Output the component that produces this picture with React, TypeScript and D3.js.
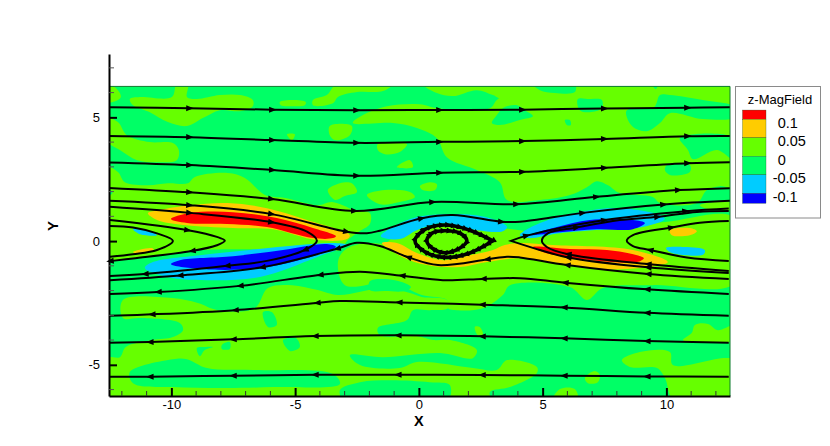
import { useEffect, useRef } from "react";
import * as d3 from "d3";

type Pt = [number, number];

const xMajor = [-10, -5, 0, 5, 10];
const yMajor = [-5, 0, 5];
const xMinor = d3.range(-12, 13);
const yMinor = d3.range(-6, 8);

const levelColors = ["#ff0000", "#ffcc00", "#66ff00", "#00ff66", "#00ccff", "#0000ff"];
const legendLabels = ["0.1", "0.05", "0", "-0.05", "-0.1"];
const legendValues = [0.1, 0.05, 0, -0.05, -0.1];
const legendEnds = [0.125, -0.127];

// contour regions of z-MagField, in X/Y units
const limePatches: Pt[][] = [
  [[-12.6, 6.35], [-12.16, 6.1], [-12.04, 5.82], [-12.24, 5.66], [-12.65, 5.62]],
  [[-11.68, 5.74], [-11.27, 5.82], [-9.98, 5.82], [-9.78, 6.35], [-9.33, 6.35], [-9.37, 5.82], [-8.97, 5.74], [-8.04, 5.9], [-7.23, 5.9], [-6.71, 5.7], [-6.71, 5.45], [-7.23, 5.25], [-8.04, 5.29], [-8.73, 4.97], [-9.37, 4.65], [-10.14, 4.81], [-10.87, 5.21], [-11.55, 5.49]],
  [[-12.65, 4.97], [-12.16, 4.81], [-11.8, 4.28], [-10.87, 4.0], [-9.94, 3.96], [-9.7, 3.68], [-9.78, 3.27], [-10.58, 3.19], [-11.39, 3.27], [-12.08, 3.68], [-12.65, 4.08]],
  [[-4.28, 5.49], [-4.28, 5.7], [-3.72, 5.9], [-3.31, 6.35], [-1.05, 6.35], [-1.45, 6.06], [-2.5, 6.02], [-3.27, 5.82], [-3.47, 5.57]],
  [[-5.62, 5.62], [-5.09, 5.7], [-4.57, 5.62], [-4.61, 5.49], [-5.09, 5.45], [-5.58, 5.49]],
  [[-3.6, 4.65], [-2.71, 4.65], [-2.79, 4.28], [-3.39, 4.08], [-3.6, 4.28]],
  [[-5.33, 4.32], [-5.01, 4.32], [-5.13, 4.08]],
  [[-1.66, 3.92], [-0.48, 3.92], [-0.77, 3.6], [-1.37, 3.51], [-1.66, 3.68]],
  [[-0.89, 2.99], [-0.36, 3.27], [-0.24, 2.99], [-0.77, 2.95]],
  [[-3.68, 2.06], [-3.19, 2.34], [-2.71, 2.34], [-2.5, 1.98], [-2.99, 1.82], [-3.39, 1.66]],
  [[-2.1, 1.86], [-1.37, 2.06], [-0.36, 1.98], [-0.16, 1.78], [-0.77, 1.58], [-1.58, 1.49]],
  [[0.04, 2.22], [0.44, 2.38], [0.73, 2.3], [0.65, 2.06], [0.16, 2.06]],
  [[11.35, 1.45], [12.56, 1.58], [12.77, 1.29], [11.55, 1.33]],
  // upper right
  [[3.15, 5.7], [3.68, 6.02], [4.48, 6.35], [12.77, 6.35], [12.77, 2.18], [12.16, 2.22], [11.64, 2.06], [11.23, 1.54], [9.74, 1.54], [9.45, 1.78], [8.12, 1.94], [7.64, 2.26], [7.19, 2.42], [6.79, 2.18], [6.1, 1.86], [4.89, 1.66], [3.56, 1.66], [3.27, 2.38], [2.34, 2.87], [1.13, 3.39], [0.73, 4.16], [-0.08, 4.57], [-1.05, 4.77], [-2.67, 4.77], [-2.26, 5.09], [-1.29, 5.45], [0.04, 5.53], [0.73, 5.37], [2.87, 5.37]],
  [[0.16, 6.35], [0.73, 5.98], [1.37, 5.86], [2.34, 6.1], [2.99, 5.9], [3.47, 5.7], [4.08, 6.35]],
  // band around the left lobes
  [[-12.65, 2.99], [-12.16, 2.79], [-11.88, 2.38], [-10.95, 2.26], [-10.14, 2.34], [-9.33, 2.34], [-9.05, 2.59], [-7.72, 2.75], [-7.03, 2.55], [-6.22, 1.86], [-5.41, 1.74], [-4.08, 1.45], [-3.51, 1.58], [-2.59, 1.25], [-1.98, 1.13], [-1.98, 0.69], [-2.46, 0.36], [-2.87, 0.04], [-3.19, -0.36], [-4.0, -0.36], [-8.85, -0.36], [-10.87, -0.61], [-12.65, -0.61]],
  // central band
  [[-3.27, -0.85], [-2.99, -0.36], [-2.18, -0.08], [-1.37, -0.08], [-0.77, 0.36], [1.05, 0.61], [3.27, 0.53], [4.89, 0.36], [7.31, 0.53], [9.94, 0.77], [12.77, 0.93], [12.77, -1.7], [9.45, -1.78], [7.43, -1.9], [6.79, -2.38], [6.1, -1.86], [3.68, -1.78], [3.39, -2.18], [2.59, -2.71], [1.54, -2.79], [1.17, -2.71], [1.13, -2.38], [0.12, -2.18], [-0.77, -1.78], [-1.37, -1.66], [-2.99, -1.78]],
  // lower left
  [[-11.96, -2.38], [-9.98, -2.3], [-8.93, -2.5], [-8.12, -2.79], [-6.63, -2.71], [-6.1, -1.9], [-5.13, -1.78], [-4.08, -1.98], [-3.27, -2.18], [-1.37, -1.9], [-0.36, -2.1], [0.12, -2.26], [1.13, -2.38], [1.17, -2.71], [0.44, -2.79], [-0.24, -2.79], [-0.48, -3.19], [-1.66, -3.51], [-1.58, -3.8], [-0.08, -3.84], [0.57, -4.0], [1.25, -4.0], [2.34, -4.4], [2.18, -4.73], [0.85, -4.52], [-1.45, -4.69], [-2.79, -4.61], [-2.38, -5.01], [-0.77, -5.13], [-0.08, -4.89], [2.18, -5.13], [3.15, -5.21], [3.56, -4.81], [4.77, -5.09], [4.77, -5.33], [3.68, -5.9], [2.87, -6.1], [2.87, -6.5], [-12.69, -6.5], [-12.69, -4.73], [-12.08, -4.69], [-11.84, -4.28], [-10.75, -4.0], [-9.94, -3.88], [-9.53, -3.6], [-9.66, -3.31], [-11.27, -3.11], [-11.96, -3.11]],
  // lower right
  [[11.15, -3.39], [11.68, -3.35], [12.08, -3.6], [12.77, -3.39], [12.77, -4.0], [11.35, -4.08], [10.67, -4.0], [11.03, -3.7]],
  [[8.2, -4.81], [8.93, -4.48], [10.14, -4.48], [10.26, -5.01], [12.77, -4.81], [12.77, -6.5], [10.34, -6.5], [9.94, -5.53], [9.62, -5.13], [8.52, -5.09]],
  [[6.71, -5.53], [7.11, -5.25], [7.31, -5.41], [7.23, -5.7], [6.83, -5.74]],
  [[5.41, -6.42], [5.7, -5.98], [6.3, -5.98], [6.42, -6.42]],
  [[2.26, -3.47], [2.46, -3.47], [2.59, -3.8], [2.38, -3.8]],
];

const greenPatches: Pt[][] = [
  [[4.61, 6.35], [6.3, 6.35], [6.3, 6.02], [5.49, 5.98], [4.89, 6.1]],
  [[9.41, 6.35], [9.66, 6.35], [9.57, 6.14]],
  [[3.39, 5.37], [3.96, 5.49], [4.28, 5.29], [4.61, 5.05], [4.08, 4.89], [3.27, 4.69], [2.95, 4.77], [3.15, 5.09]],
  [[6.42, 5.74], [6.91, 5.74], [7.39, 5.7], [7.39, 5.37], [6.91, 5.21], [6.5, 5.29]],
  [[5.9, 4.89], [6.1, 4.89], [6.14, 4.69], [5.98, 4.69]],
  [[9.74, 5.9], [10.14, 5.9], [11.47, 5.7], [12.77, 5.41], [12.77, 5.01], [11.47, 4.93], [10.14, 5.17], [9.74, 4.77], [9.21, 4.44], [8.65, 4.61], [8.4, 5.01], [8.4, 5.29], [9.5, 5.41]],
  [[10.02, 3.07], [10.95, 3.07], [10.95, 2.79], [10.14, 2.67], [9.94, 2.87]],
  [[10.54, 4.16], [12.77, 4.16], [12.77, 3.27], [12.04, 3.68], [11.07, 3.31], [10.87, 3.68]],
  [[-12.65, 2.06], [-12.4, 2.02], [-12.4, 1.9], [-12.65, 1.86]],
  [[-11.68, -5.29], [-9.94, -4.77], [-9.37, -4.77], [-8.56, -5.13], [-6.71, -5.21], [-3.47, -5.37], [-3.19, -5.78], [-5.9, -5.9], [-7.76, -5.94], [-9.94, -5.9], [-11.55, -5.74]],
  [[-3.19, -6.02], [-2.38, -5.7], [-1.17, -5.62], [0.44, -5.7], [1.25, -5.82], [1.13, -6.5], [-2.99, -6.5]],
  [[-8.97, -4.32], [-8.65, -4.28], [-8.32, -4.28], [-8.65, -4.4], [-8.85, -4.65]],
  [[-7.96, -4.2], [-7.64, -4.08], [-7.64, -4.36], [-7.96, -4.36]],
  [[-5.49, -4.0], [-4.97, -3.92], [-4.81, -4.28], [-5.21, -4.44]],
  [[-6.3, -2.87], [-5.94, -2.87], [-5.74, -3.39], [-6.1, -3.47]],
  [[-1.98, -1.62], [-0.97, -1.58], [-0.32, -1.86], [-0.57, -2.02], [-1.37, -2.02], [-1.98, -1.98]],
];

const orangePatches: Pt[][] = [
  [[-10.95, 1.13], [-10.54, 1.25], [-9.25, 1.45], [-7.72, 1.54], [-6.14, 1.33], [-4.52, 0.85], [-2.79, 0.24], [-2.91, 0.08], [-4.12, 0.04], [-5.9, 0.48], [-7.51, 0.53], [-9.53, 0.65], [-10.58, 0.85]],
  [[-11.55, -0.44], [-10.79, -0.28], [-10.71, -0.36], [-11.27, -0.53]],
  [[-1.49, -0.08], [-0.89, -0.08], [-0.08, -0.48], [0.97, -0.77], [2.06, -0.57], [2.99, -0.36], [3.47, -0.16], [4.08, -0.08], [5.41, -0.16], [8.65, -0.36], [10.06, -0.85], [8.93, -1.09], [7.31, -1.13], [5.58, -0.89], [4.08, -0.69], [2.75, -0.85], [1.66, -1.05], [0.32, -0.97], [-0.65, -0.65]],
  [[10.14, 0.44], [10.95, 0.53], [11.23, 0.4], [10.95, 0.24], [10.22, 0.24]],
];

const redPatches: Pt[][] = [
  [[-10.02, 0.89], [-9.25, 1.13], [-7.51, 1.17], [-5.74, 0.93], [-4.28, 0.53], [-3.35, 0.2], [-3.47, 0.12], [-4.28, 0.12], [-6.14, 0.57], [-7.76, 0.69], [-9.37, 0.73]],
  [[4.61, -0.24], [6.1, -0.32], [7.6, -0.36], [8.81, -0.57], [9.09, -0.69], [8.81, -0.85], [7.43, -0.81], [5.98, -0.65], [5.01, -0.44]],
];

const cyanPatches: Pt[][] = [
  [[-11.07, -1.09], [-10.75, -0.85], [-8.85, -0.57], [-6.83, -0.36], [-4.81, -0.16], [-3.47, -0.08], [-2.91, -0.16], [-4.12, -0.65], [-6.42, -1.45], [-8.32, -1.58], [-10.18, -1.45]],
  [[-11.55, 0.48], [-10.87, 0.4], [-10.58, 0.24], [-11.27, 0.28]],
  [[-1.54, 0.2], [-1.05, 0.57], [-0.08, 0.97], [1.66, 1.09], [2.99, 0.89], [3.56, 0.57], [3.39, 0.4], [2.34, 0.44], [0.97, 0.73], [-0.08, 0.44], [-0.77, 0.08]],
  [[4.08, 0.24], [4.89, 0.73], [6.5, 1.17], [8.12, 1.33], [9.74, 1.05], [9.94, 0.89], [9.05, 0.57], [7.6, 0.48], [5.7, 0.32], [4.4, 0.12]],
  [[9.98, -0.28], [10.75, -0.24], [11.55, -0.36], [11.51, -0.53], [10.75, -0.57], [10.14, -0.44]],
];

const bluePatches: Pt[][] = [
  [[-10.02, -0.93], [-9.66, -0.77], [-7.51, -0.61], [-5.49, -0.36], [-3.72, -0.12], [-3.35, -0.24], [-4.28, -0.61], [-6.42, -1.09], [-8.85, -1.13]],
  [[4.48, 0.24], [5.58, 0.57], [6.91, 0.85], [8.65, 0.85], [9.13, 0.73], [8.65, 0.48], [7.19, 0.48], [5.7, 0.36]],
];

const regions: { color: string; patches: Pt[][] }[] = [
  { color: levelColors[2], patches: limePatches },
  { color: levelColors[3], patches: greenPatches },
  { color: levelColors[1], patches: orangePatches },
  { color: levelColors[4], patches: cyanPatches },
  { color: levelColors[0], patches: redPatches },
  { color: levelColors[5], patches: bluePatches },
];

// streamlines, each listed along the flow
const line1: Pt[] = [[-12.52, 5.41], [-9.25, 5.37], [-5.9, 5.31], [-2.5, 5.29], [0.85, 5.3], [4.2, 5.31], [7.51, 5.36], [10.87, 5.39], [12.56, 5.41]];
const line2: Pt[] = [[-12.52, 4.25], [-9.25, 4.2], [-5.9, 4.08], [-2.5, 3.97], [0.85, 4.01], [4.2, 4.04], [7.51, 4.13], [10.87, 4.24], [12.56, 4.25]];
const line3: Pt[] = [[-12.52, 3.18], [-9.25, 3.07], [-5.9, 2.87], [-2.5, 2.64], [0.85, 2.76], [4.2, 2.8], [7.51, 2.96], [10.87, 3.15], [12.56, 3.19]];
const line4: Pt[] = [[-12.52, 2.15], [-9.25, 1.97], [-5.94, 1.7], [-2.59, 1.22], [0.57, 1.58], [3.96, 1.49], [7.19, 1.79], [10.5, 2.06], [12.56, 2.14]];
const line5: Pt[] = [[-12.52, 1.63], [-9.25, 1.45], [-5.94, 1.09], [-2.91, 0.38], [-2.1, 0.32], [-1.58, 0.42], [0.12, 0.92], [1.37, 1.05], [3.35, 0.78], [4.08, 0.78], [6.63, 1.14], [9.9, 1.48], [12.56, 1.63]];
const line6: Pt[] = [[-12.48, 1.39], [-9.25, 1.14], [-5.94, 0.76], [-4.52, 0.38], [-4.12, 0.01], [-4.61, -0.36], [-6.14, -0.8], [-7.76, -1.0], [-11.07, -1.33], [-12.48, -1.41]];
const line7: Pt[] = [[12.52, -1.53], [9.25, -1.33], [5.98, -0.97], [4.08, -0.66], [3.56, -0.63], [2.75, -0.74], [0.77, -0.97], [-0.44, -0.65], [-1.58, -0.2], [-2.5, -0.07], [-3.31, -0.31], [-6.34, -1.06], [-9.66, -1.39], [-12.48, -1.58]];
const line8: Pt[] = [[12.52, -2.14], [9.21, -1.95], [5.9, -1.68], [4.08, -1.5], [2.59, -1.53], [0.97, -1.58], [-0.69, -1.4], [-2.38, -1.24], [-4.0, -1.37], [-7.23, -1.81], [-10.54, -2.06], [-12.48, -2.14]];
const line9: Pt[] = [[12.52, -3.02], [9.21, -2.9], [5.86, -2.68], [2.55, -2.57], [-0.81, -2.48], [-3.19, -2.42], [-4.12, -2.5], [-7.43, -2.79], [-10.79, -2.96], [-12.52, -3.02]];
const line10: Pt[] = [[12.52, -4.11], [9.21, -4.04], [5.86, -3.93], [2.55, -3.85], [-0.85, -3.81], [-4.2, -3.84], [-7.51, -3.97], [-10.87, -4.08], [-12.52, -4.11]];
const line11: Pt[] = [[12.52, -5.48], [9.21, -5.47], [5.86, -5.44], [2.55, -5.41], [-0.85, -5.4], [-4.2, -5.4], [-7.51, -5.44], [-10.87, -5.48], [-12.52, -5.48]];
const hairpinLeft1: Pt[] = [[-12.48, 0.61], [-11.55, 0.55], [-10.58, 0.31], [-9.94, 0.01], [-10.58, -0.36], [-11.55, -0.53], [-12.48, -0.63]];
const hairpinLeft2: Pt[] = [[-12.48, 0.85], [-9.33, 0.44], [-8.16, 0.17], [-7.84, 0.01], [-8.16, -0.17], [-9.17, -0.4], [-11.55, -0.7], [-12.48, -0.81]];
const wedgeRight: Pt[] = [[12.52, -1.29], [9.25, -1.06], [6.02, -0.66], [4.89, -0.36], [3.72, 0.01], [3.72, 0.01], [4.36, 0.22], [7.51, 0.85], [10.79, 1.21], [12.52, 1.32]];
const hairpinRight1: Pt[] = [[12.52, -1.21], [9.25, -0.93], [6.02, -0.53], [5.17, -0.24], [4.97, 0.01], [5.21, 0.31], [6.38, 0.55], [8.12, 0.85], [9.66, 0.98], [11.23, 1.18], [12.52, 1.22]];
const hairpinRight2: Pt[] = [[12.52, -0.8], [10.83, -0.66], [9.33, -0.36], [8.65, -0.2], [8.4, 0.01], [8.65, 0.24], [10.22, 0.55], [11.35, 0.74], [12.52, 0.81]];

const streamlines: { pts: Pt[]; arrows: number[] }[] = [
  { pts: line1, arrows: [1, 2, 3, 4, 5, 6, 7] },
  { pts: line2, arrows: [1, 2, 3, 4, 5, 6, 7] },
  { pts: line3, arrows: [1, 2, 3, 4, 5, 6, 7] },
  { pts: line4, arrows: [1, 2, 3, 4, 5, 6, 7] },
  { pts: line5, arrows: [1, 2, 3, 6, 8, 10, 11] },
  { pts: line6, arrows: [1, 2, 5, 7, 8] },
  { pts: line7, arrows: [1, 2, 5, 7, 10, 11, 12] },
  { pts: line8, arrows: [1, 2, 4, 6, 8, 9, 10] },
  { pts: line9, arrows: [1, 2, 3, 4, 6, 7, 8] },
  { pts: line10, arrows: [1, 2, 3, 4, 5, 6, 7] },
  { pts: line11, arrows: [1, 2, 3, 4, 5, 6, 7] },
  { pts: hairpinLeft1, arrows: [] },
  { pts: hairpinLeft2, arrows: [1, 5, 7] },
  { pts: wedgeRight, arrows: [1, 2, 6, 7, 8] },
  { pts: hairpinRight1, arrows: [1, 2, 6, 8] },
  { pts: hairpinRight2, arrows: [2, 6] },
];

const islandOuter: Pt[] = [[-0.16, 0.01], [0.24, 0.47], [1.05, 0.65], [2.06, 0.44], [2.99, 0.01], [2.99, 0.01], [2.06, -0.48], [1.05, -0.66], [0.24, -0.43]];
const islandInner: Pt[] = [[0.32, 0.01], [0.53, 0.32], [1.05, 0.42], [1.66, 0.32], [1.94, 0.01], [1.66, -0.28], [1.05, -0.47], [0.53, -0.28]];

export default function App() {
  const ref = useRef<SVGSVGElement>(null);

  useEffect(() => {
    const width = 830;
    const height = 446;
    const left = 109;
    const right = 730;
    const bottom = 396;
    const axisTop = 54;

    const x = d3.scaleLinear().domain([-12.52, 12.57]).range([left, right]);
    const y = d3.scaleLinear().domain([-6.26, 7.56]).range([bottom, axisTop]);
    const fieldTop = y(6.25);

    const svg = d3.select(ref.current);
    svg.selectAll("*").remove();
    svg.attr("font-family", "'Liberation Sans', Arial, sans-serif");
    svg.append("rect").attr("width", width).attr("height", height).attr("fill", "#fff");

    svg.append("clipPath").attr("id", "field")
      .append("rect").attr("x", left).attr("y", fieldTop).attr("width", right - left).attr("height", bottom - fieldTop);

    const field = svg.append("g").attr("clip-path", "url(#field)");
    field.append("rect").attr("x", left).attr("y", fieldTop).attr("width", right - left).attr("height", bottom - fieldTop).attr("fill", levelColors[3]);

    const blob = d3.line<Pt>().x((d) => x(d[0])).y((d) => y(d[1])).curve(d3.curveCatmullRomClosed.alpha(0.5));
    const stream = d3.line<Pt>().x((d) => x(d[0])).y((d) => y(d[1])).curve(d3.curveCatmullRom.alpha(0.5));

    regions.forEach((r) => {
      field.selectAll(null).data(r.patches).enter().append("path").attr("d", (d) => blob(d)).attr("fill", r.color);
    });

    // thin edge of the contour zone
    svg.append("path")
      .attr("d", `M${left},${fieldTop}H${right}V${bottom}`)
      .attr("fill", "none").attr("stroke", "#0a7a2a").attr("stroke-width", 1);

    const arrow = (g: any, px: number, py: number, angle: number, len = 7.5, half = 3) => {
      g.append("path")
        .attr("d", `M${len / 2},0L${-len / 2},${-half}L${-len / 2},${half}Z`)
        .attr("transform", `translate(${px},${py}) rotate(${angle})`)
        .attr("fill", "#000");
    };

    const lines = svg.append("g");
    streamlines.forEach((s) => {
      lines.append("path").attr("d", stream(s.pts)).attr("fill", "none").attr("stroke", "#000").attr("stroke-width", 2);
      s.arrows.forEach((i) => {
        const a = s.pts[Math.max(i - 1, 0)];
        const b = s.pts[Math.min(i + 1, s.pts.length - 1)];
        const angle = (Math.atan2(y(b[1]) - y(a[1]), x(b[0]) - x(a[0])) * 180) / Math.PI;
        arrow(lines, x(s.pts[i][0]), y(s.pts[i][1]), angle);
      });
    });

    [islandOuter, islandInner].forEach((pts) => {
      const p = lines.append("path").attr("d", blob(pts)).attr("fill", "none").attr("stroke", "#000").attr("stroke-width", 3.6);
      const node = p.node() as SVGPathElement;
      const total = node.getTotalLength();
      for (let l = 0; l < total; l += 6) {
        const a = node.getPointAtLength(l);
        const b = node.getPointAtLength(l + 1);
        arrow(lines, a.x, a.y, (Math.atan2(b.y - a.y, b.x - a.x) * 180) / Math.PI, 6, 3);
      }
    });

    // axes with inward ticks
    const xAxis = svg.append("g").attr("transform", `translate(0,${bottom})`)
      .call(d3.axisBottom(x).tickValues(xMajor).tickSize(-8).tickPadding(4).tickSizeOuter(0).tickFormat(d3.format("d")));
    xAxis.select(".domain").attr("stroke-width", 2).attr("stroke", "#000");
    xAxis.selectAll(".tick line").attr("stroke-width", 2).attr("stroke", "#000");
    xAxis.selectAll("text").attr("font-size", 13).attr("font-family", null).attr("fill", "#000").text((d: any) => String(d));

    const yAxis = svg.append("g").attr("transform", `translate(${left},0)`)
      .call(d3.axisLeft(y).tickValues(yMajor).tickSize(-8).tickPadding(9).tickSizeOuter(0).tickFormat(d3.format("d")));
    yAxis.select(".domain").attr("stroke-width", 2).attr("stroke", "#000");
    yAxis.selectAll(".tick line").attr("stroke-width", 2).attr("stroke", "#000");
    yAxis.selectAll("text").attr("font-size", 13).attr("font-family", null).attr("fill", "#000").text((d: any) => String(d));

    svg.append("g").selectAll("line").data(xMinor.filter((d) => !xMajor.includes(d))).enter().append("line")
      .attr("x1", (d) => x(d)).attr("x2", (d) => x(d)).attr("y1", bottom).attr("y2", bottom - 5)
      .attr("stroke", "#333").attr("stroke-width", 1);
    svg.append("g").selectAll("line").data(yMinor.filter((d) => !yMajor.includes(d))).enter().append("line")
      .attr("x1", left).attr("x2", left + 5).attr("y1", (d) => y(d)).attr("y2", (d) => y(d))
      .attr("stroke", "#555").attr("stroke-width", 1);

    svg.append("text").text("X").attr("x", x(0)).attr("y", 426)
      .attr("text-anchor", "middle").attr("font-size", 14.5).attr("font-weight", "bold");
    svg.append("text").text("Y").attr("transform", `translate(58,${y(0) - 15}) rotate(-90)`)
      .attr("text-anchor", "middle").attr("font-size", 15).attr("font-weight", "bold");

    // legend
    const lg = d3.scaleLinear().domain([0.1, -0.1]).range([119.3, 193.3]);
    const legend = svg.append("g");
    legend.append("rect").attr("x", 735.5).attr("y", 86.5).attr("width", 85).attr("height", 131.5)
      .attr("fill", "#fff").attr("stroke", "#8a8a8a").attr("stroke-width", 1);
    legend.append("text").text("z-MagField").attr("x", 780).attr("y", 104)
      .attr("text-anchor", "middle").attr("font-size", 13).attr("fill", "#000");
    const edges = [legendEnds[0], ...legendValues, legendEnds[1]];
    legend.selectAll("rect.swatch").data(levelColors).enter().append("rect").attr("class", "swatch")
      .attr("x", 742.5).attr("width", 23.5)
      .attr("y", (_, i) => lg(edges[i]))
      .attr("height", (_, i) => lg(edges[i + 1]) - lg(edges[i]))
      .attr("fill", (d) => d).attr("stroke", "#1a4a1a").attr("stroke-width", 0.3);
    legend.selectAll("text.lab").data(legendLabels).enter().append("text").attr("class", "lab")
      .text((d) => d)
      .attr("x", (d) => (d.startsWith("-") ? 772.7 : 777.7))
      .attr("y", (_, i) => lg(legendValues[i]) + 8.5)
      .attr("font-size", 14.5).attr("fill", "#000");
  }, []);

  return <svg ref={ref} width={830} height={446} style={{ position: "absolute", left: 0, top: 0 }} />;
}
